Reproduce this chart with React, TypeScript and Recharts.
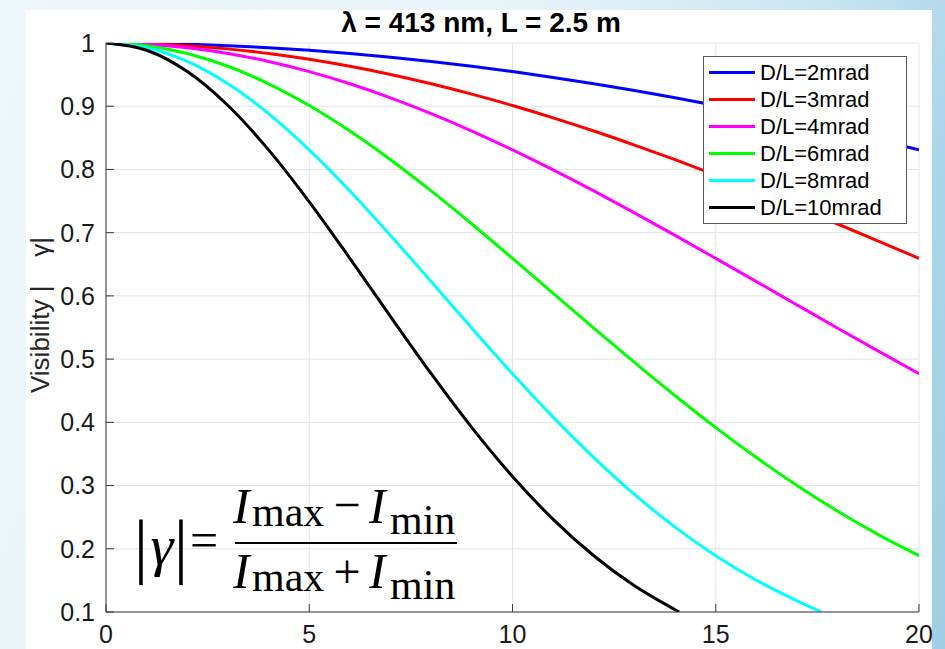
import React from 'react';
import { LineChart, Line, XAxis, YAxis, CartesianGrid, Legend } from 'recharts';

// ---- data ----
const xFull = [0, 1, 2, 3, 4, 5, 6, 7, 8, 9, 10, 11, 12, 13, 14, 15, 16, 17, 18, 19, 20];
const xCyan = [0, 1, 2, 3, 4, 5, 6, 7, 8, 9, 10, 11, 12, 13, 14, 15, 16, 17, 17.6];
const xBlack = [0, 1, 2, 3, 4, 5, 6, 7, 8, 9, 10, 11, 12, 13, 14, 14.1];

const vis2 = [1, 0.9995, 0.9982, 0.9958, 0.9926, 0.9885, 0.9835, 0.9776, 0.9708, 0.9632, 0.9548, 0.9455, 0.9355, 0.9248, 0.9133, 0.9011, 0.8883, 0.8748, 0.8608, 0.8461, 0.831];
const vis3 = [1, 0.999, 0.9958, 0.9907, 0.9835, 0.9743, 0.9632, 0.9503, 0.9355, 0.9191, 0.9011, 0.8816, 0.8608, 0.8386, 0.8154, 0.7911, 0.766, 0.7401, 0.7137, 0.6867, 0.6593];
const vis4 = [1, 0.9982, 0.9926, 0.9835, 0.9708, 0.9548, 0.9355, 0.9133, 0.8883, 0.8608, 0.831, 0.7993, 0.766, 0.7314, 0.6957, 0.6593, 0.6226, 0.5857, 0.5489, 0.5126, 0.4769];
const vis6 = [1, 0.9958, 0.9835, 0.9632, 0.9355, 0.9011, 0.8608, 0.8154, 0.766, 0.7137, 0.6593, 0.6041, 0.5489, 0.4947, 0.442, 0.3917, 0.3443, 0.3001, 0.2594, 0.2223, 0.189];
const vis8 = [1, 0.9926, 0.9708, 0.9355, 0.8883, 0.831, 0.766, 0.6957, 0.6226, 0.5489, 0.4769, 0.4082, 0.3443, 0.2861, 0.2343, 0.189, 0.1502, 0.1177, 0.1];
const vis10 = [1, 0.9885, 0.9548, 0.9011, 0.831, 0.7488, 0.6593, 0.5673, 0.4769, 0.3917, 0.3144, 0.2466, 0.189, 0.1415, 0.1036, 0.1];

const seriesNames = ['D/L=2mrad', 'D/L=3mrad', 'D/L=4mrad', 'D/L=6mrad', 'D/L=8mrad', 'D/L=10mrad'];
const seriesColors = ['#0000ff', '#ff0000', '#ff00ff', '#00ff00', '#00ffff', '#000000'];
const seriesX = [xFull, xFull, xFull, xFull, xCyan, xBlack];
const seriesY = [vis2, vis3, vis4, vis6, vis8, vis10];

const xTicks = [0, 5, 10, 15, 20];
const xTickLabels = ['0', '5', '10', '15', '20'];
const yTicks = [0.1, 0.2, 0.3, 0.4, 0.5, 0.6, 0.7, 0.8, 0.9, 1];
const yTickLabels = ['0.1', '0.2', '0.3', '0.4', '0.5', '0.6', '0.7', '0.8', '0.9', '1'];

const titleText = 'λ = 413 nm, L = 2.5 m';
const yLabelText = 'Visibility |    γ|';

const SANS = "'Liberation Sans', Arial, Helvetica, sans-serif";
const SERIF = "'Liberation Serif', 'Times New Roman', Times, serif";
const FRAME = '#3a3a3a';

const series = seriesNames.map((name, i) => ({
  name,
  color: seriesColors[i],
  data: seriesX[i].map((x, j) => ({ x, v: seriesY[i][j] })),
}));

const LegendBox = () => (
  <div
    style={{
      boxSizing: 'border-box',
      width: 204,
      height: 168,
      border: '1px solid #5a5a5a',
      background: '#ffffff',
      paddingTop: 2,
      fontFamily: SANS,
    }}
  >
    {series.map((s) => (
      <div key={s.name} style={{ display: 'flex', alignItems: 'center', height: 27 }}>
        <div style={{ width: 46, height: 3, background: s.color, marginLeft: 5, marginRight: 5 }} />
        <span style={{ fontSize: 22, lineHeight: '27px', color: '#000', whiteSpace: 'nowrap' }}>{s.name}</span>
      </div>
    ))}
  </div>
);

export default function App() {
  return (
    <div
      style={{
        position: 'absolute',
        left: 0,
        top: 0,
        width: 945,
        height: 649,
        overflow: 'hidden',
        background: 'linear-gradient(110deg, #eef7fb 0%, #e6f3f9 45%, #cbe7f3 68%, #aad5ea 85%, #9fcfe6 100%)',
      }}
    >
      <div style={{ position: 'absolute', left: 26, top: 10, width: 906, height: 639, background: '#ffffff' }} />
      <div style={{ position: 'absolute', left: 0, top: 0 }}>
        <LineChart width={945} height={649} margin={{ top: 43, right: 26, bottom: 0, left: 16 }}>
          <CartesianGrid stroke="#e3e3e3" strokeWidth={1} />
          <XAxis
            dataKey="x"
            type="number"
            domain={[0, 20]}
            ticks={xTicks}
            interval={0}
            allowDataOverflow
            height={37}
            tickSize={-8}
            tickMargin={21}
            tickFormatter={(v: number) => xTickLabels[xTicks.indexOf(v)] ?? String(v)}
            tick={{ fill: '#1a1a1a', fontSize: 25, fontFamily: SANS }}
            stroke={FRAME}
            axisLine={{ stroke: FRAME }}
            tickLine={{ stroke: FRAME }}
          />
          <XAxis
            xAxisId="top"
            orientation="top"
            type="number"
            domain={[0, 20]}
            ticks={xTicks}
            interval={0}
            allowDataOverflow
            height={0}
            tickSize={-8}
            tick={false}
            axisLine={{ stroke: FRAME }}
            tickLine={{ stroke: FRAME }}
          />
          <YAxis
            type="number"
            domain={[0.1, 1]}
            ticks={yTicks}
            interval={0}
            allowDataOverflow
            width={90}
            tickSize={-8}
            tickMargin={19}
            tickFormatter={(v: number) => yTickLabels[yTicks.findIndex((t) => Math.abs(t - v) < 1e-9)] ?? String(v)}
            tick={{ fill: '#1a1a1a', fontSize: 25, fontFamily: SANS }}
            axisLine={{ stroke: FRAME }}
            tickLine={{ stroke: FRAME }}
          />
          <YAxis
            yAxisId="right"
            orientation="right"
            type="number"
            domain={[0.1, 1]}
            ticks={yTicks}
            interval={0}
            allowDataOverflow
            width={0}
            tickSize={-8}
            tick={false}
            axisLine={{ stroke: FRAME }}
            tickLine={{ stroke: FRAME }}
          />
          {series.map((s) => (
            <Line
              key={s.name}
              data={s.data}
              dataKey="v"
              name={s.name}
              type="monotone"
              stroke={s.color}
              strokeWidth={3}
              dot={false}
              activeDot={false}
              isAnimationActive={false}
            />
          ))}
          <Legend
            layout="horizontal"
            verticalAlign="middle"
            align="center"
            wrapperStyle={{ top: 56, left: 703, width: 204, height: 168 }}
            content={() => <LegendBox />}
          />
        </LineChart>
      </div>
      <svg
        width={945}
        height={649}
        style={{ position: 'absolute', left: 0, top: 0, pointerEvents: 'none' }}
      >
        <text x={481} y={32} textAnchor="middle" fontFamily={SANS} fontWeight="bold" fontSize={28} fill="#000">
          {titleText}
        </text>
        <text
          x={0}
          y={0}
          transform="translate(49,315) rotate(-90)"
          textAnchor="middle"
          fontFamily={SANS}
          fontSize={26}
          fill="#262626"
          style={{ whiteSpace: 'pre' }}
        >
          {yLabelText}
        </text>
        <g fontFamily={SERIF} fill="#000">
          <text x={141} y={570} fontSize={72} textAnchor="middle">|</text>
          <text x={162} y={565} fontSize={58} fontStyle="italic" textAnchor="middle">γ</text>
          <text x={181} y={570} fontSize={72} textAnchor="middle">|</text>
          <text x={204} y={557} fontSize={50} textAnchor="middle">=</text>
          <text x={233} y={523} fontSize={50} fontStyle="italic">I</text>
          <text x={252} y={526} fontSize={42}>max</text>
          <text x={347} y={521} fontSize={48} textAnchor="middle">−</text>
          <text x={369} y={523} fontSize={50} fontStyle="italic">I</text>
          <text x={390} y={534} fontSize={42}>min</text>
          <rect x={235} y={542} width={222} height={2} />
          <text x={233} y={588} fontSize={50} fontStyle="italic">I</text>
          <text x={252} y={591} fontSize={42}>max</text>
          <text x={347} y={588} fontSize={48} textAnchor="middle">+</text>
          <text x={369} y={588} fontSize={50} fontStyle="italic">I</text>
          <text x={390} y={599} fontSize={42}>min</text>
        </g>
      </svg>
    </div>
  );
}
